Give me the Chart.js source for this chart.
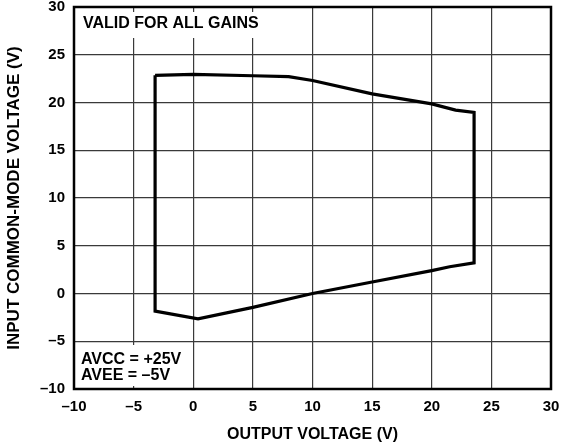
<!DOCTYPE html>
<html>
<head>
<meta charset="utf-8">
<script src="https://cdn.jsdelivr.net/npm/chart.js@4/dist/chart.umd.min.js"></script>
<style>
  html, body { margin: 0; padding: 0; background: #fff; }
  #wrap { width: 562px; height: 446px; }
</style>
</head>
<body>
<div id="wrap"><canvas id="c" width="562" height="446"></canvas></div>
<script>
// Outline of the allowed operating region, traced clockwise from the top-left corner.
const outputV = [-3.2, 0, 5, 8, 10, 15, 20, 22, 23.55, 23.55, 21.5, 20, 15, 10, 5, 0.4, -3.2, -3.2];
const inputCmV = [22.85, 22.95, 22.8, 22.7, 22.3, 20.9, 19.85, 19.2, 18.95, 3.2, 2.8, 2.4, 1.2, 0, -1.45, -2.65, -1.85, 22.85];

const xTicks = [-10, -5, 0, 5, 10, 15, 20, 25, 30];
const yTicks = [-10, -5, 0, 5, 10, 15, 20, 25, 30];

const FONT = "'Liberation Sans', Arial, Helvetica, sans-serif";
const GRID = "#3a3a3a";

const points = outputV.map((x, i) => ({ x, y: inputCmV[i] }));

// minus sign in the datasheet style
const dash = (v) => String(v).replace("-", "\u2013");

// white boxes with the notes, drawn over the grid but under the curve
const notes = {
  id: "notes",
  beforeDatasetsDraw(chart) {
    const { ctx, chartArea: a } = chart;
    ctx.save();
    ctx.fillStyle = "#fff";
    ctx.fillRect(a.left + 2, a.top + 5, 192, 26);
    ctx.fillRect(a.left + 2, a.bottom - 44, 104, 41);
    ctx.fillStyle = "#000";
    ctx.font = "bold 16px " + FONT;
    ctx.textBaseline = "middle";
    ctx.fillText("VALID FOR ALL GAINS", a.left + 9, a.top + 17);
    ctx.fillText("AVCC = +25V", a.left + 7, a.bottom - 29);
    ctx.fillText("AVEE = \u20135V", a.left + 7, a.bottom - 13);
    ctx.restore();
  },
  afterDraw(chart) {
    const { ctx, chartArea: a } = chart;
    ctx.save();
    ctx.strokeStyle = "#000";
    ctx.lineWidth = 2.5;
    ctx.strokeRect(a.left, a.top, a.right - a.left, a.bottom - a.top);
    ctx.restore();
  },
};

new Chart(document.getElementById("c"), {
  type: "scatter",
  data: {
    datasets: [{
      data: points,
      showLine: true,
      borderColor: "#000",
      borderWidth: 3.2,
      pointRadius: 0,
      tension: 0,
      fill: false,
    }],
  },
  options: {
    responsive: false,
    animation: false,
    layout: { padding: { left: 0, right: 11, top: 7, bottom: 0 } },
    plugins: { legend: { display: false }, tooltip: { enabled: false } },
    scales: {
      x: {
        type: "linear",
        min: -10, max: 30,
        afterBuildTicks: (s) => { s.ticks = xTicks.map((v) => ({ value: v })); },
        afterFit: (s) => { s.height = 57; s.paddingLeft = 0; s.paddingRight = 0; },
        grid: { color: GRID, lineWidth: 1.2, drawTicks: false },
        border: { display: false },
        ticks: {
          padding: 9, color: "#000",
          font: { family: FONT, size: 15, weight: "bold" },
          callback: (v) => dash(v),
        },
        title: {
          display: true, text: "OUTPUT VOLTAGE (V)", color: "#000",
          font: { family: FONT, size: 16, weight: "bold" },
          padding: { top: 0, bottom: 2 },
        },
      },
      y: {
        type: "linear",
        min: -10, max: 30,
        afterBuildTicks: (s) => { s.ticks = yTicks.map((v) => ({ value: v })); },
        afterFit: (s) => { s.width = 74; s.paddingTop = 0; s.paddingBottom = 0; },
        grid: { color: GRID, lineWidth: 1.2, drawTicks: false },
        border: { display: false },
        ticks: {
          padding: 9, color: "#000",
          font: { family: FONT, size: 15, weight: "bold", lineHeight: 1 },
          callback: (v) => dash(v),
        },
        title: {
          display: true, text: "INPUT COMMON-MODE VOLTAGE (V)", color: "#000",
          font: { family: FONT, size: 17, weight: "bold" },
          padding: { top: 4, bottom: 0 },
        },
      },
    },
  },
  plugins: [notes],
});
</script>
</body>
</html>
